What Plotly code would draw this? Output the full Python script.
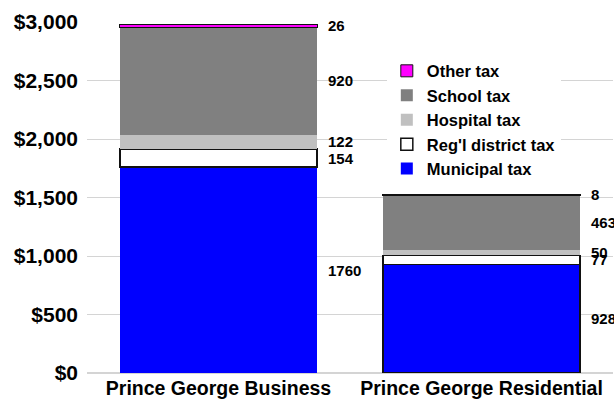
import plotly.graph_objects as go

# Property tax breakdown by class, Prince George
categories = ["Prince George Business", "Prince George Residential"]
series_names = ["Municipal tax", "Reg'l district tax", "Hospital tax", "School tax", "Other tax"]
municipal = [1760, 928]
regional = [154, 77]
hospital = [122, 50]
school = [920, 463]
other = [26, 8]

y_ticks = [0, 500, 1000, 1500, 2000, 2500, 3000]
y_tick_labels = ["$0", "$500", "$1,000", "$1,500", "$2,000", "$2,500", "$3,000"]

series_values = [municipal, regional, hospital, school, other]
fill_colors = ["#0000ff", "#ffffff", "#c0c0c0", "#808080", "#ff00ff"]
line_widths = [[0, 1.5], [1.5, 1.5], [0, 0], [0, 0], [1, 1]]

fig = go.Figure()
for name, vals, color, lw in zip(series_names, series_values, fill_colors, line_widths):
    fig.add_trace(go.Bar(
        name=name,
        x=categories,
        y=vals,
        width=0.75,
        marker=dict(color=color, line=dict(color="#111111", width=lw)),
    ))

# Segment value labels placed beside each bar at the segment's midpoint
annotations = []
for i in range(len(categories)):
    base = 0
    for vals in series_values:
        v = vals[i]
        annotations.append(dict(
            x=i + 0.375, y=base + v / 2, xref="x", yref="y",
            text=str(v), showarrow=False, xanchor="left", yanchor="middle",
            xshift=9,
            font=dict(family="Liberation Sans", size=15, color="#000000", weight="bold"),
        ))
        base += v

fig.update_layout(
    barmode="stack",
    width=614, height=400,
    margin=dict(l=87, r=1, t=22, b=27),
    paper_bgcolor="white", plot_bgcolor="white",
    font=dict(family="Liberation Sans", color="#000000"),
    annotations=annotations,
    showlegend=True,
    legend=dict(
        x=0.570, y=0.91, xanchor="left", yanchor="top",
        traceorder="reversed",
        bgcolor="white",
        font=dict(family="Liberation Sans", size=16.5, color="#000000", weight="bold"),
        tracegroupgap=0,
    ),
    xaxis=dict(
        type="category",
        range=[-0.5, 1.5],
        showgrid=False, showline=False, zeroline=False,
        tickfont=dict(family="Liberation Sans", size=19.5, color="#000000", weight="bold"),
        ticklabelstandoff=1,
    ),
    yaxis=dict(
        range=[0, 3000],
        tickvals=y_ticks, ticktext=y_tick_labels,
        showgrid=True, gridcolor="#d4d4d4", gridwidth=1,
        zeroline=True, zerolinecolor="#d4d4d4", zerolinewidth=2,
        showline=False,
        tickfont=dict(family="Liberation Sans", size=21, color="#000000", weight="bold"),
        ticklabelstandoff=8,
    ),
)

fig.write_html("out.html")
